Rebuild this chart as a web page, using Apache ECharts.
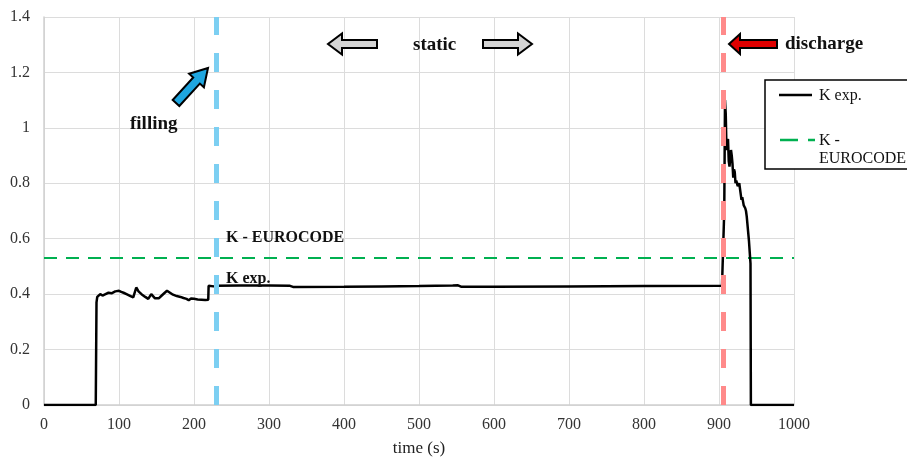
<!DOCTYPE html>
<html>
<head>
<meta charset="utf-8">
<script src="https://cdn.jsdelivr.net/npm/echarts@6/dist/echarts.min.js"></script>
<style>
  html, body { margin: 0; padding: 0; background: #fff; }
  #chart { width: 907px; height: 462px; }
</style>
</head>
<body>
<div id="chart"></div>
<script>
// Measured pressure ratio K over time (s)
const kTime = [0, 69, 70, 71, 73, 75, 78, 82, 86, 90, 95, 100, 103, 106, 110, 114, 119, 121, 123, 126,
  130, 135, 139, 141, 143, 145, 148, 150, 153, 157, 161, 164, 168, 172, 177, 182, 186, 190, 193, 196,
  200, 205, 210, 215, 219, 219.5, 222, 226, 230, 260, 300, 328, 332, 400, 450, 500, 545, 552, 556,
  600, 700, 800, 904, 906, 907, 908, 909, 910, 911, 912, 913, 914, 915, 916, 917, 918, 919, 920, 921,
  922, 923, 925, 927, 928, 929, 930, 931, 933, 935, 936, 937, 938, 939, 940, 941, 942, 942.5, 1000];
const kValue = [0, 0, 0.37, 0.39, 0.385, 0.40, 0.395, 0.40, 0.405, 0.403, 0.41, 0.412, 0.408, 0.405, 0.40, 0.395, 0.388, 0.395, 0.424, 0.41,
  0.40, 0.39, 0.383, 0.39, 0.40, 0.393, 0.385, 0.378, 0.385, 0.395, 0.405, 0.412, 0.405, 0.398, 0.393, 0.39, 0.386, 0.383, 0.378, 0.384,
  0.383, 0.381, 0.38, 0.379, 0.38, 0.43, 0.432, 0.428, 0.43, 0.431, 0.431, 0.43, 0.426, 0.427, 0.428, 0.429, 0.431, 0.432, 0.427,
  0.427, 0.428, 0.429, 0.43, 0.43, 0.70, 1.10, 1.05, 0.92, 0.95, 0.96, 0.88, 0.86, 0.89, 0.92, 0.90, 0.87, 0.82, 0.85, 0.84,
  0.80, 0.81, 0.79, 0.80, 0.78, 0.76, 0.74, 0.75, 0.72, 0.71, 0.70, 0.68, 0.65, 0.62, 0.59, 0.55, 0.51, 0, 0];

// Eurocode reference value of K
const kEurocode = 0.53;
const eurocodeSpan = [0, 1000];

// Phase boundaries (s): end of filling, start of discharge
const fillingEnd = 230;
const dischargeStart = 905;

// Axis ticks
const xTicks = { min: 0, max: 1000, step: 100 };
const yTicks = { min: 0, max: 1.4, step: 0.2 };

const seriesNames = ['K exp.', 'K - EUROCODE'];

const FONT = 'Liberation Serif';

// Block arrow outline from tail to tip
function arrowPoints(tail, tip, shaftHalf, headLen, headHalf) {
  const dx = tip[0] - tail[0], dy = tip[1] - tail[1];
  const len = Math.hypot(dx, dy);
  const ux = dx / len, uy = dy / len;
  const nx = -uy, ny = ux;
  const bx = tip[0] - ux * headLen, by = tip[1] - uy * headLen;
  return [
    [tail[0] + nx * shaftHalf, tail[1] + ny * shaftHalf],
    [bx + nx * shaftHalf, by + ny * shaftHalf],
    [bx + nx * headHalf, by + ny * headHalf],
    [tip[0], tip[1]],
    [bx - nx * headHalf, by - ny * headHalf],
    [bx - nx * shaftHalf, by - ny * shaftHalf],
    [tail[0] - nx * shaftHalf, tail[1] - ny * shaftHalf]
  ];
}

function arrow(tail, tip, fill, shaftHalf, headLen, headHalf) {
  return {
    type: 'polygon',
    shape: { points: arrowPoints(tail, tip, shaftHalf, headLen, headHalf) },
    style: { fill: fill, stroke: '#000', lineWidth: 2, lineJoin: 'miter' },
    z: 100
  };
}

function label(text, x, y, size, bold) {
  return {
    type: 'text',
    x: x, y: y,
    style: {
      text: text, fill: '#111',
      font: (bold ? 'bold ' : '') + size + 'px "' + FONT + '"',
      verticalAlign: 'middle', align: 'left'
    },
    z: 100
  };
}

const chart = echarts.init(document.getElementById('chart'), null, { renderer: 'canvas' });

const option = {
  animation: false,
  backgroundColor: '#fff',
  textStyle: { fontFamily: FONT },
  grid: { left: 44, right: 113, top: 17, bottom: 50, containLabel: false },
  xAxis: {
    type: 'value',
    min: xTicks.min, max: xTicks.max, interval: xTicks.step,
    name: 'time (s)',
    nameLocation: 'middle',
    nameGap: 35,
    nameTextStyle: { fontFamily: FONT, fontSize: 17, color: '#222' },
    axisLine: { show: true, lineStyle: { color: '#d0d0d0', width: 1.5 } },
    axisTick: { show: false },
    axisLabel: { fontFamily: FONT, fontSize: 16, color: '#333', margin: 12, formatter: v => String(v) },
    splitLine: { show: true, lineStyle: { color: '#dcdcdc', width: 1 } }
  },
  yAxis: {
    type: 'value',
    min: yTicks.min, max: yTicks.max, interval: yTicks.step,
    axisLine: { show: true, lineStyle: { color: '#d0d0d0', width: 1.5 } },
    axisTick: { show: false },
    axisLabel: { fontFamily: FONT, fontSize: 16, color: '#333', margin: 14 },
    splitLine: { show: true, lineStyle: { color: '#dcdcdc', width: 1 } }
  },
  series: [
    {
      name: seriesNames[1],
      type: 'line',
      showSymbol: false,
      symbol: 'none',
      data: eurocodeSpan.map(t => [t, kEurocode]),
      lineStyle: { color: '#00b050', width: 2, type: [13, 9] },
      z: 2
    },
    {
      name: seriesNames[0],
      type: 'line',
      showSymbol: false,
      symbol: 'none',
      data: kTime.map((t, i) => [t, kValue[i]]),
      lineStyle: { color: '#000', width: 2.5 },
      z: 3
    },
    {
      name: 'phases',
      type: 'line',
      data: [],
      z: 4,
      markLine: {
        silent: true,
        symbol: 'none',
        label: { show: false },
        data: [
          { xAxis: fillingEnd, lineStyle: { color: '#7ccff2', width: 5, type: [19, 18] } },
          { xAxis: dischargeStart, lineStyle: { color: '#ff8a8a', width: 5, type: [19, 18] } }
        ]
      }
    }
  ],
  graphic: [
    // legend box
    {
      type: 'rect',
      shape: { x: 765, y: 80, width: 170, height: 89 },
      style: { fill: '#fff', stroke: '#000', lineWidth: 1.5 },
      z: 90
    },
    {
      type: 'line',
      shape: { x1: 779, y1: 95, x2: 812, y2: 95 },
      style: { stroke: '#000', lineWidth: 2.5 },
      z: 95
    },
    label(seriesNames[0], 819, 96, 16, false),
    {
      type: 'line',
      shape: { x1: 780, y1: 140, x2: 815, y2: 140 },
      style: { stroke: '#00b050', lineWidth: 2.5, lineDash: [18, 10] },
      z: 95
    },
    label('K -', 819, 141, 16, false),
    label('EUROCODE', 819, 159, 16, false),

    // phase annotations
    label('static', 413, 45, 19, true),
    arrow([377, 44], [328, 44], '#d4d4d4', 4, 14, 10.5),
    arrow([483, 44], [532, 44], '#d4d4d4', 4, 14, 10.5),
    label('discharge', 785, 44, 19, true),
    arrow([777, 44], [729, 44], '#e00000', 4, 11, 10),
    label('filling', 130, 124, 19, true),
    arrow([176, 103], [208, 68], '#1ea6e0', 4.5, 17, 10),
    label('K - EUROCODE', 226, 238, 16, true),
    label('K exp.', 226, 279, 16, true)
  ]
};

chart.setOption(option);
</script>
</body>
</html>
